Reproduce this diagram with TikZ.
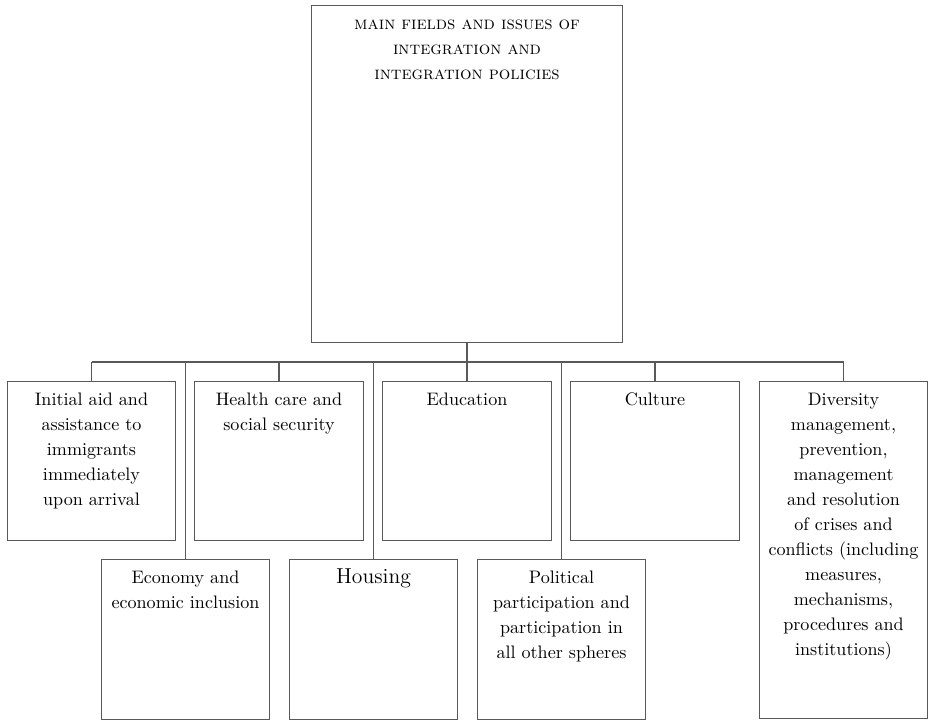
\documentclass[tikz,border=0pt]{standalone}
\usepackage{fontspec}
\usetikzlibrary{calc}

\tikzset{
  field/.style={draw=black!65, line width=0.7pt, anchor=north, text width=90pt, align=center,
    inner xsep=3pt, inner ysep=3.6pt, text height=10pt, text depth=#1,
    font=\fontsize{10.3}{14.2}\selectfont},
  field/.default=73.1pt,
  link/.style={draw=black!65, line width=0.7pt}
}

\begin{document}
\begin{tikzpicture}[x=0.02cm, y=-0.02cm]
  \useasboundingbox (0,0) rectangle (929,720);
  %coordinates
  \coordinate (bus) at (467,362);
  % Nodes
  \node[field=174.7pt, text width=171pt, font=\fontsize{10.3}{14.2}\selectfont\scshape] (main) at (467,5) {main fields and issues of\\integration and\\integration policies};
  \node[field] (aid) at (91.5,381) {Initial aid and\\assistance to\\immigrants\\immediately\\upon arrival};
  \node[field] (health) at (279,381) {Health care and\\social security};
  \node[field] (edu) at (467,381) {Education};
  \node[field] (cult) at (655,381) {Culture};
  \node[field=174.7pt] (div) at (843.5,381) {Diversity\\management,\\prevention,\\management\\and resolution\\of crises and\\conflicts (including\\measures,\\mechanisms,\\procedures and\\institutions)};
  \node[field=73.6pt] (econ) at (185.5,559) {Economy and\\economic inclusion};
  \node[field=73.6pt] (house) at (373.5,559) {\fontsize{12.3}{14.2}\selectfont Housing};
  \node[field=73.6pt] (pol) at (561.5,559) {Political\\participation and\\participation in\\all other spheres};
  % Edges
  \draw[link] (main.south) -- (bus);
  \draw[link] (aid.north |- bus) -- (div.north |- bus);
  \draw[link] (aid.north) -- (aid.north |- bus);
  \draw[link] (health.north) -- (health.north |- bus);
  \draw[link] (edu.north) -- (edu.north |- bus);
  \draw[link] (cult.north) -- (cult.north |- bus);
  \draw[link] (div.north) -- (div.north |- bus);
  \draw[link] (econ.north) -- (econ.north |- bus);
  \draw[link] (house.north) -- (house.north |- bus);
  \draw[link] (pol.north) -- (pol.north |- bus);
\end{tikzpicture}
\end{document}
